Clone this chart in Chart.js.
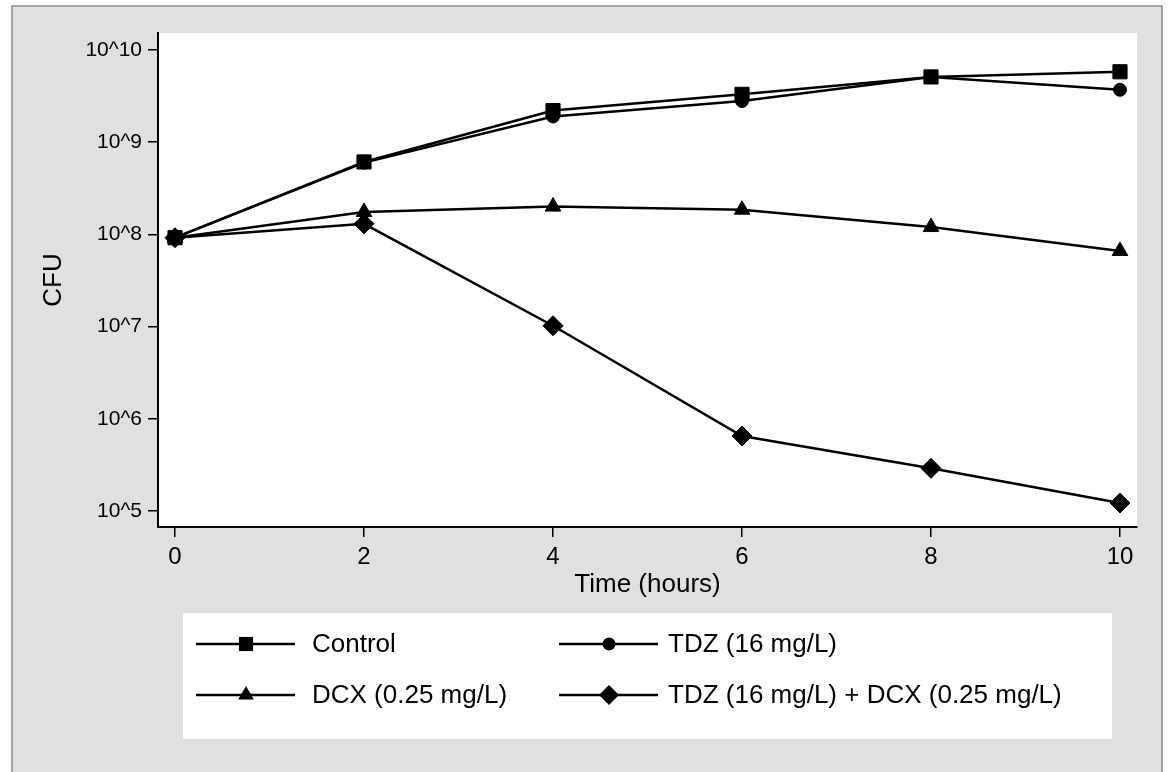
<!DOCTYPE html>
<html>
<head>
<meta charset="utf-8">
<script src="https://cdn.jsdelivr.net/npm/chart.js"></script>
<style>
  html, body { margin: 0; padding: 0; background: #fff; }
  #wrap { width: 1168px; height: 772px; }
</style>
</head>
<body>
<div id="wrap"><canvas id="cfuChart" width="1168" height="772"></canvas></div>
<script>
// --- DATA ---
const hours = [0, 2, 4, 6, 8, 10];
const control = [9.2e7, 6.1e8, 2.2e9, 3.3e9, 5.1e9, 5.8e9];
const tdz = [9.2e7, 6.0e8, 1.9e9, 2.8e9, 5.1e9, 3.7e9];
const dcx = [9.2e7, 1.75e8, 2.0e8, 1.85e8, 1.2e8, 6.6e7];
const tdzDcx = [9.2e7, 1.3e8, 1.02e7, 6.5e5, 2.9e5, 1.22e5];
const yTicks = [1e5, 1e6, 1e7, 1e8, 1e9, 1e10];

const seriesNames = ['Control', 'TDZ (16 mg/L)', 'DCX (0.25 mg/L)', 'TDZ (16 mg/L) + DCX (0.25 mg/L)'];

const FONT = "'Liberation Sans', Arial, Helvetica, sans-serif";

function makeSet(label, values, style, radius) {
    return {
        label: label,
        data: hours.map((h, i) => ({ x: h, y: values[i] })),
        borderColor: '#000',
        backgroundColor: '#000',
        borderWidth: 2.5,
        pointStyle: style,
        pointRadius: radius,
        pointBackgroundColor: '#000',
        pointBorderColor: '#000',
        pointBorderWidth: 1,
        tension: 0
    };
}

// --- PLUGINS ---
// grey frame + white plot region
const framePlugin = {
    id: 'frame',
    beforeDraw(chart) {
        const ctx = chart.ctx;
        const a = chart.chartArea;
        ctx.save();
        ctx.fillStyle = '#fff';
        ctx.fillRect(0, 0, chart.width, chart.height);
        ctx.fillStyle = '#e0e0e0';
        ctx.fillRect(12, 6, 1150, 780);
        ctx.strokeStyle = '#8a8a8a';
        ctx.lineWidth = 1.5;
        ctx.strokeRect(12, 6, 1150, 780);
        ctx.fillStyle = '#fff';
        ctx.fillRect(a.left, a.top, a.right - a.left, a.bottom - a.top);
        ctx.restore();
    }
};

function drawMarker(ctx, style, x, y, r) {
    ctx.beginPath();
    if (style === 'rect') {
        const s = Math.SQRT1_2 * r;
        ctx.rect(x - s, y - s, 2 * s, 2 * s);
    } else if (style === 'circle') {
        ctx.arc(x, y, r, 0, Math.PI * 2);
    } else if (style === 'triangle') {
        ctx.moveTo(x, y - r);
        ctx.lineTo(x + Math.sin(Math.PI * 2 / 3) * r, y + r / 2);
        ctx.lineTo(x - Math.sin(Math.PI * 2 / 3) * r, y + r / 2);
        ctx.closePath();
    } else if (style === 'rectRot') {
        ctx.moveTo(x - r, y);
        ctx.lineTo(x, y - r);
        ctx.lineTo(x + r, y);
        ctx.lineTo(x, y + r);
        ctx.closePath();
    }
    ctx.fill();
}

// 2x2 legend box under the plot
const legendBoxPlugin = {
    id: 'legendBox',
    afterDraw(chart) {
        const ctx = chart.ctx;
        const box = { left: 183, top: 613, right: 1112, bottom: 739 };
        const rows = [644, 695];
        const cols = [196, 559];
        const textX = [312, 668];
        ctx.save();
        ctx.fillStyle = '#fff';
        ctx.fillRect(box.left, box.top, box.right - box.left, box.bottom - box.top);
        chart.data.datasets.forEach((ds, i) => {
            const x0 = cols[i % 2];
            const y = rows[Math.floor(i / 2)];
            ctx.strokeStyle = '#000';
            ctx.lineWidth = 2.5;
            ctx.beginPath();
            ctx.moveTo(x0, y);
            ctx.lineTo(x0 + 99, y);
            ctx.stroke();
            ctx.fillStyle = '#000';
            drawMarker(ctx, ds.pointStyle, x0 + 50, y, ds.pointRadius);
            ctx.font = '26px ' + FONT;
            ctx.textBaseline = 'middle';
            ctx.textAlign = 'left';
            ctx.fillText(ds.label, textX[i % 2], y + 1);
        });
        ctx.restore();
    }
};

// --- CHART ---
const ctx = document.getElementById('cfuChart').getContext('2d');

new Chart(ctx, {
    type: 'line',
    data: {
        datasets: [
            makeSet(seriesNames[0], control, 'rect', 10),
            makeSet(seriesNames[1], tdz, 'circle', 6.5),
            makeSet(seriesNames[2], dcx, 'triangle', 9),
            makeSet(seriesNames[3], tdzDcx, 'rectRot', 10)
        ]
    },
    options: {
        responsive: false,
        animation: false,
        devicePixelRatio: 1,
        layout: { padding: { left: 12, top: 33, right: 31, bottom: 170 } },
        plugins: {
            legend: { display: false },
            tooltip: { enabled: false }
        },
        scales: {
            x: {
                type: 'linear',
                min: -0.18,
                max: 10.18,
                afterBuildTicks: s => { s.ticks = hours.map(v => ({ value: v })); },
                afterFit: s => { s.height = 75; },
                grid: { drawOnChartArea: false, drawTicks: true, tickLength: 10, color: '#000', lineWidth: 1.5 },
                border: { display: true, color: '#000', width: 2 },
                ticks: { color: '#000', font: { size: 24, family: FONT }, padding: 6, maxRotation: 0, autoSkip: false },
                title: { display: true, text: 'Time (hours)', color: '#000', font: { size: 26, family: FONT }, padding: { top: 0, bottom: 2 } }
            },
            y: {
                type: 'logarithmic',
                min: Math.pow(10, 4.826),
                max: Math.pow(10, 10.184),
                afterBuildTicks: s => { s.ticks = yTicks.map(v => ({ value: v })); },
                afterFit: s => { s.width = 146; },
                grid: { drawOnChartArea: false, drawTicks: true, tickLength: 10, color: '#000', lineWidth: 1.5 },
                border: { display: true, color: '#000', width: 2 },
                ticks: {
                    color: '#000',
                    font: { size: 21, family: FONT },
                    padding: 6,
                    autoSkip: false,
                    callback: v => '10^' + Math.round(Math.log10(v))
                },
                title: { display: true, text: 'CFU', color: '#000', font: { size: 26, family: FONT }, padding: { top: 26, bottom: 0 } }
            }
        }
    },
    plugins: [framePlugin, legendBoxPlugin]
});
</script>
</body>
</html>
